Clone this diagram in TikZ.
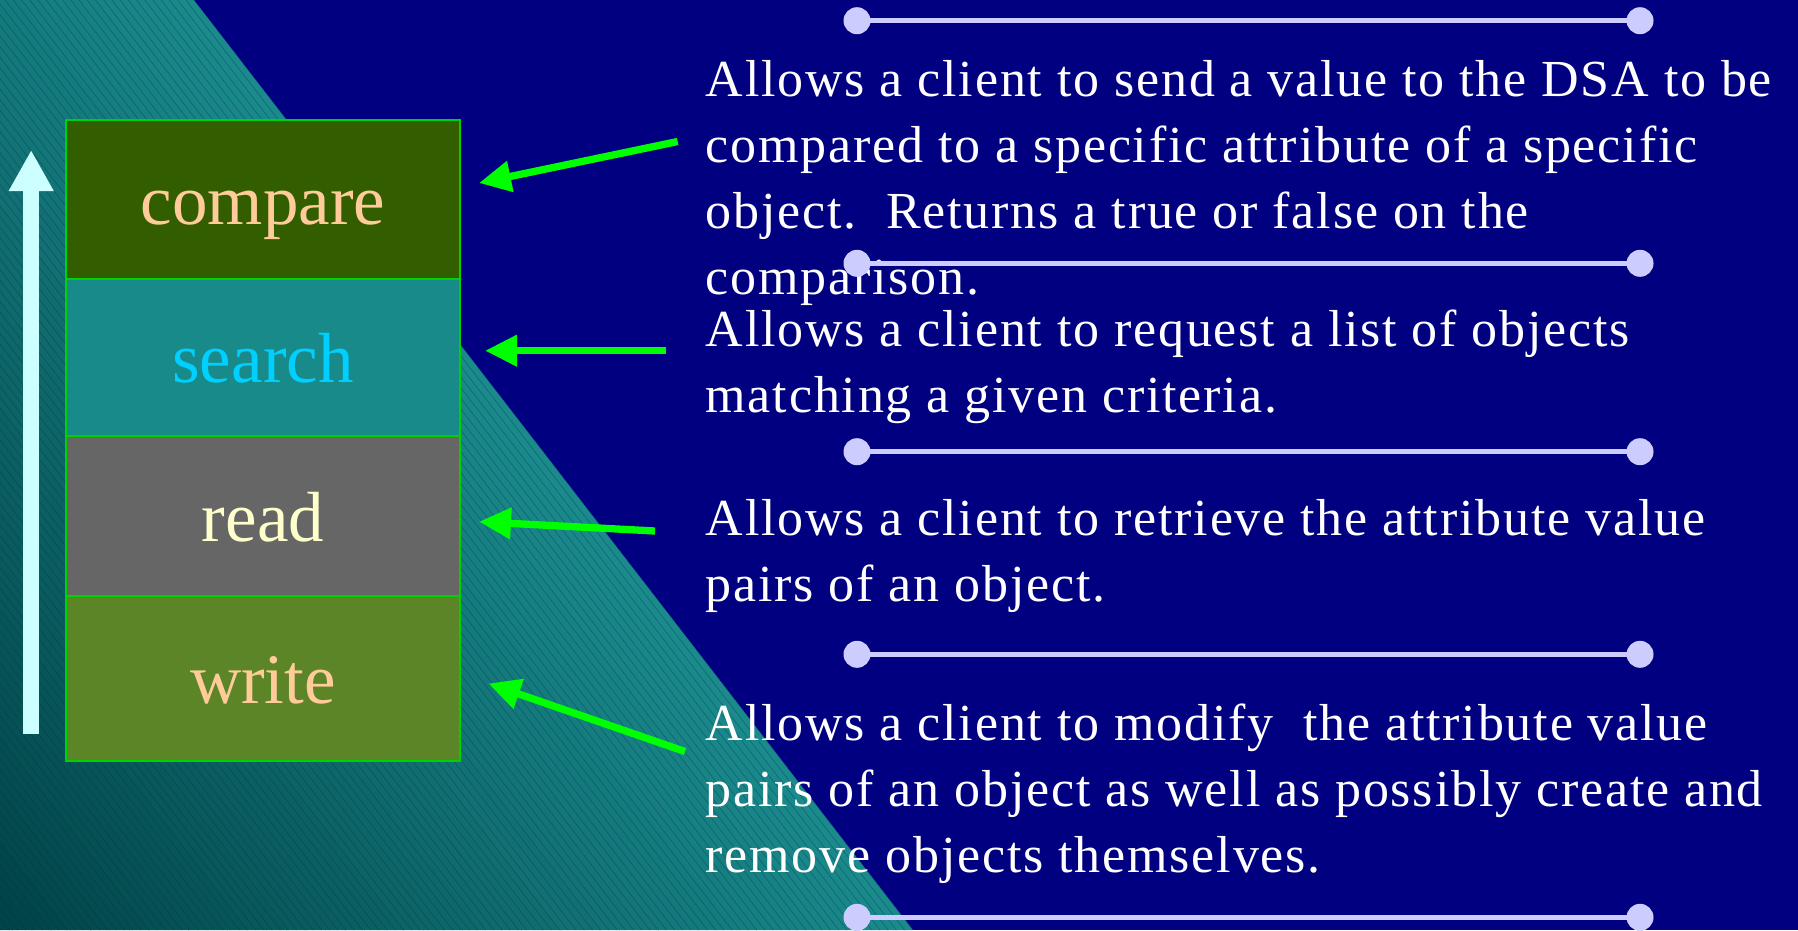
\documentclass[tikz,border=0pt]{standalone}
\usepackage{fontspec}
\setmainfont{Liberation Serif}
\newfontfamily\descfont{Liberation Serif}[LetterSpace=3.5]
\usetikzlibrary{arrows.meta}

\definecolor{navy}{RGB}{0,0,128}
\definecolor{tealdark}{RGB}{0,66,68}
\definecolor{teallight}{RGB}{26,138,138}
\definecolor{hatchcol}{RGB}{10,40,100}
\definecolor{boxedge}{RGB}{0,210,0}
\definecolor{cmpfill}{RGB}{51,94,0}
\definecolor{srchfill}{RGB}{24,138,138}
\definecolor{readfill}{RGB}{102,102,102}
\definecolor{wrtfill}{RGB}{91,133,39}
\definecolor{peach}{RGB}{255,204,153}
\definecolor{cyantext}{RGB}{0,208,255}
\definecolor{paleyellow}{RGB}{255,255,204}
\definecolor{upcol}{RGB}{204,255,255}
\definecolor{lav}{RGB}{204,204,255}
\definecolor{ptrgreen}{RGB}{0,255,0}

\tikzset{
  opbox/.style={draw=boxedge, line width=1.5pt, minimum width=394pt,
    inner sep=0pt, text height=50pt, text depth=0pt,
    font=\fontsize{71}{71}\selectfont},
  desc/.style={anchor=north west, inner sep=0pt, align=left, text=white,
    font=\descfont\fontsize{52}{66}\selectfont},
  ptr/.style={draw=ptrgreen, line width=7.3pt,
    -{Triangle[length=32pt,width=30pt]}},
  divline/.style={draw=lav, line width=5pt},
  hatch/.style={draw=hatchcol, line width=0.7pt, opacity=0.35}
}

\begin{document}
\begin{tikzpicture}[x=1pt, y=-1pt]
\useasboundingbox (0,0) rectangle (1798,930);
\fill[navy] (0,0) rectangle (1798,930);

% teal wedge with gradient and fine hatching
\begin{scope}
  \clip (0,0) -- (194,0) -- (913,930) -- (0,930) -- cycle;
  \begin{scope}[shift={(194,0)}, rotate=37.7]
    \foreach \i [evaluate=\i as \p using \i*100/47] in {0,...,47}
      \fill[teallight!\p!tealdark] (-744+\i*15.5,-300) rectangle ++(16,1700);
    \foreach \k in {0,...,115}
      \draw[hatch] (-\k*6.5,-300) -- (-\k*6.5,1400);
  \end{scope}
\end{scope}

% upward arrow
\coordinate (upbot) at (31.2,734);
\coordinate (uptop) at (31.2,150);
\draw[draw=upcol, line width=15.7pt, -{Triangle[length=41pt,width=42pt]}] (upbot) -- (uptop);

% operation stack
\node[opbox, fill=cmpfill, minimum height=159pt, text=peach] (cmp) at (263,199.5) {compare};
\node[opbox, fill=srchfill, minimum height=157pt, text=cyantext] (srch) at (263,357.5) {search};
\node[opbox, fill=readfill, minimum height=160pt, text=paleyellow] (rd) at (263,516) {read};
\node[opbox, fill=wrtfill, minimum height=165pt, text=peach] (wr) at (263,678.5) {write};

% descriptions
\node[desc] (dcmp) at (705.5,58.7) {\rule{0pt}{38pt}Allows a client to send a value to the DSA to be\\
compared to a specific attribute of a specific\\
object.\ \ Returns a true or false on the\\
comparison.};
\node[desc] (dsrch) at (705.5,308.7) {\rule{0pt}{38pt}Allows a client to request a list of objects\\
matching a given criteria.};
\node[desc] (drd) at (705.5,497.7) {\rule{0pt}{38pt}Allows a client to retrieve the attribute value\\
pairs of an object.};
\node[desc] (dwr) at (705.5,702) {\rule{0pt}{38pt}Allows a client to modify\ \ the attribute value\\
pairs of an object as well as possibly create and\\
remove objects themselves.};

% separator rules
\foreach \y [count=\n] in {20.7,263.3,451.7,654.3,917.3} {
  \coordinate (sl\n) at (857,\y);
  \coordinate (sr\n) at (1640,\y);
  \draw[divline] (sl\n) -- (sr\n);
  \fill[lav] (sl\n) circle (13.5);
  \fill[lav] (sr\n) circle (13.5);
}

% pointers from descriptions to operations
\coordinate (tcmp) at (677.7,141.5);
\coordinate (hcmp) at (479,183);
\coordinate (tsrch) at (666,350.7);
\coordinate (hsrch) at (485,350.7);
\coordinate (trd) at (655,531);
\coordinate (hrd) at (479,521.7);
\coordinate (twr) at (685,751.5);
\coordinate (hwr) at (488.5,683.5);
\draw[ptr] (tcmp) -- (hcmp);
\draw[ptr] (tsrch) -- (hsrch);
\draw[ptr] (trd) -- (hrd);
\draw[ptr] (twr) -- (hwr);
\end{tikzpicture}
\end{document}
